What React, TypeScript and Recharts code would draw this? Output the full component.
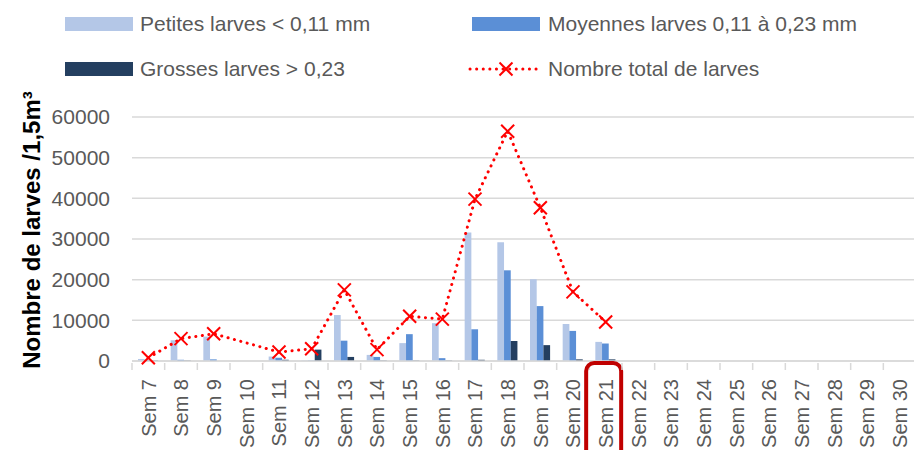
import { ComposedChart, Bar, Line, XAxis, YAxis, CartesianGrid, Legend } from "recharts"

const weeks = [
  "Sem 7", "Sem 8", "Sem 9", "Sem 10", "Sem 11", "Sem 12", "Sem 13", "Sem 14",
  "Sem 15", "Sem 16", "Sem 17", "Sem 18", "Sem 19", "Sem 20", "Sem 21", "Sem 22",
  "Sem 23", "Sem 24", "Sem 25", "Sem 26", "Sem 27", "Sem 28", "Sem 29", "Sem 30",
]

const petites = [500, 5100, 6000, null, 1100, 100, 11300, 1500, 4400, 9300, 31600, 29200, 20100, 9100, 4700, null, null, null, null, null, null, null, null, null]
const moyennes = [200, 300, 400, null, 800, 100, 5000, 1000, 6600, 700, 7800, 22300, 13500, 7400, 4300, null, null, null, null, null, null, null, null, null]
const grosses = [100, 100, 0, null, 300, 2800, 1000, 100, 100, 100, 300, 4900, 3900, 400, 400, null, null, null, null, null, null, null, null, null]
const totals = [800, 5500, 6700, null, 2200, 3000, 17500, 2800, 11000, 10300, 39800, 56500, 37700, 17000, 9600, null, null, null, null, null, null, null, null, null]

const yTicks = [0, 10000, 20000, 30000, 40000, 50000, 60000]
const highlighted = "Sem 21"

const FONT = "'Liberation Sans', Arial, sans-serif"
const TEXT = "#595959"
const LIGHT = "#B4C7E7"
const MEDIUM = "#5B8FD6"
const DARK = "#243F60"
const RED = "#FF0000"

const data = weeks.map((sem, i) => ({
  sem,
  petites: petites[i],
  moyennes: moyennes[i],
  grosses: grosses[i],
  total: totals[i],
}))

function Cross({ cx, cy, size = 6.5 }: { cx: number; cy: number; size?: number }) {
  return (
    <g>
      <line x1={cx - size} y1={cy - size} x2={cx + size} y2={cy + size} stroke={RED} strokeWidth={2} />
      <line x1={cx - size} y1={cy + size} x2={cx + size} y2={cy - size} stroke={RED} strokeWidth={2} />
    </g>
  )
}

function XDot(props: any) {
  const { cx, cy, index } = props
  if (cx == null || cy == null || props.value == null) return <g key={`d-${index}`} />
  return <Cross key={`d-${index}`} cx={cx} cy={cy} />
}

function LegendBlock() {
  const label = { position: "absolute" as const, fontFamily: FONT, fontSize: 21, color: TEXT, lineHeight: "24px", whiteSpace: "nowrap" as const }
  const swatch = (color: string, left: number, top: number) => (
    <div style={{ position: "absolute", left, top, width: 68, height: 14, background: color }} />
  )
  return (
    <div style={{ position: "relative", width: 914, height: 117 }}>
      {swatch(LIGHT, 65, 17)}
      <div style={{ ...label, left: 140, top: 12 }}>Petites larves &lt; 0,11 mm</div>
      {swatch(MEDIUM, 472, 17)}
      <div style={{ ...label, left: 548, top: 12 }}>Moyennes larves 0,11 à 0,23 mm</div>
      {swatch(DARK, 65, 62)}
      <div style={{ ...label, left: 140, top: 57 }}>Grosses larves &gt; 0,23</div>
      <svg style={{ position: "absolute", left: 468, top: 59 }} width={74} height={20}>
        <line x1={2} y1={10} x2={72} y2={10} stroke={RED} strokeWidth={3} strokeDasharray="0.1 6.5" strokeLinecap="round" />
        <Cross cx={38} cy={10} />
      </svg>
      <div style={{ ...label, left: 548, top: 57 }}>Nombre total de larves</div>
    </div>
  )
}

function SemTick(props: any) {
  const { x, y, payload, index, visibleTicksCount } = props
  const half = payload.offset ?? 16.3
  const isLast = index === visibleTicksCount - 1
  return (
    <g>
      <line x1={x - half} y1={y} x2={x - half} y2={y + 7} stroke="#D9D9D9" strokeWidth={1.5} />
      {isLast && <line x1={x + half} y1={y} x2={x + half} y2={y + 7} stroke="#D9D9D9" strokeWidth={1.5} />}
      <text
        x={x}
        y={y + 16}
        dy="0.36em"
        transform={`rotate(-90, ${x}, ${y + 16})`}
        textAnchor="end"
        fontFamily={FONT}
        fontSize={20}
        fill={TEXT}
      >
        {payload.value}
      </text>
      {payload.value === highlighted && (
        <rect x={x - 19.5} y={y} width={35} height={100} rx={8} ry={8} fill="none" stroke="#C00000" strokeWidth={4} />
      )}
    </g>
  )
}

function YLabel(props: any) {
  const { viewBox } = props
  const cx = viewBox.x + 40
  const cy = viewBox.y + viewBox.height / 2 - 9
  return (
    <text
      x={cx}
      y={cy}
      transform={`rotate(-90, ${cx}, ${cy})`}
      textAnchor="middle"
      fontFamily={FONT}
      fontWeight="bold"
      fontSize={24}
      fill="#000"
    >
      Nombre de larves /1,5m³
    </text>
  )
}

export default function App() {
  return (
    <div style={{ position: "absolute", left: 0, top: 0, width: 914, height: 450, overflow: "hidden", background: "#fff" }}>
      <ComposedChart width={916} height={450} data={data} margin={{ top: 0, right: 0, left: 0, bottom: 0 }} barGap={0}>
        <Legend verticalAlign="top" content={<LegendBlock />} wrapperStyle={{ top: 0, left: 0 }} />
        <CartesianGrid vertical={false} stroke="#D9D9D9" strokeWidth={1.5} />
        <XAxis
          dataKey="sem"
          height={89}
          interval={0}
          tick={<SemTick />}
          tickLine={false}
          tickSize={0}
          axisLine={{ stroke: "#D9D9D9", strokeWidth: 1.5 }}
        />
        <YAxis
          width={132}
          domain={[0, 60000]}
          ticks={yTicks}
          axisLine={false}
          tickLine={false}
          tickMargin={16}
          tick={{ fontSize: 21, fill: TEXT, fontFamily: FONT }}
          label={{ content: YLabel }}
        />
        <Bar dataKey="petites" fill={LIGHT} barSize={6.7} isAnimationActive={false} />
        <Bar dataKey="moyennes" fill={MEDIUM} barSize={6.7} isAnimationActive={false} />
        <Bar dataKey="grosses" fill={DARK} barSize={6.7} isAnimationActive={false} />
        <Line
          type="linear"
          dataKey="total"
          stroke={RED}
          strokeWidth={3}
          strokeDasharray="0.1 6.5"
          strokeLinecap="round"
          connectNulls
          dot={XDot}
          activeDot={false}
          isAnimationActive={false}
        />
      </ComposedChart>
    </div>
  )
}
